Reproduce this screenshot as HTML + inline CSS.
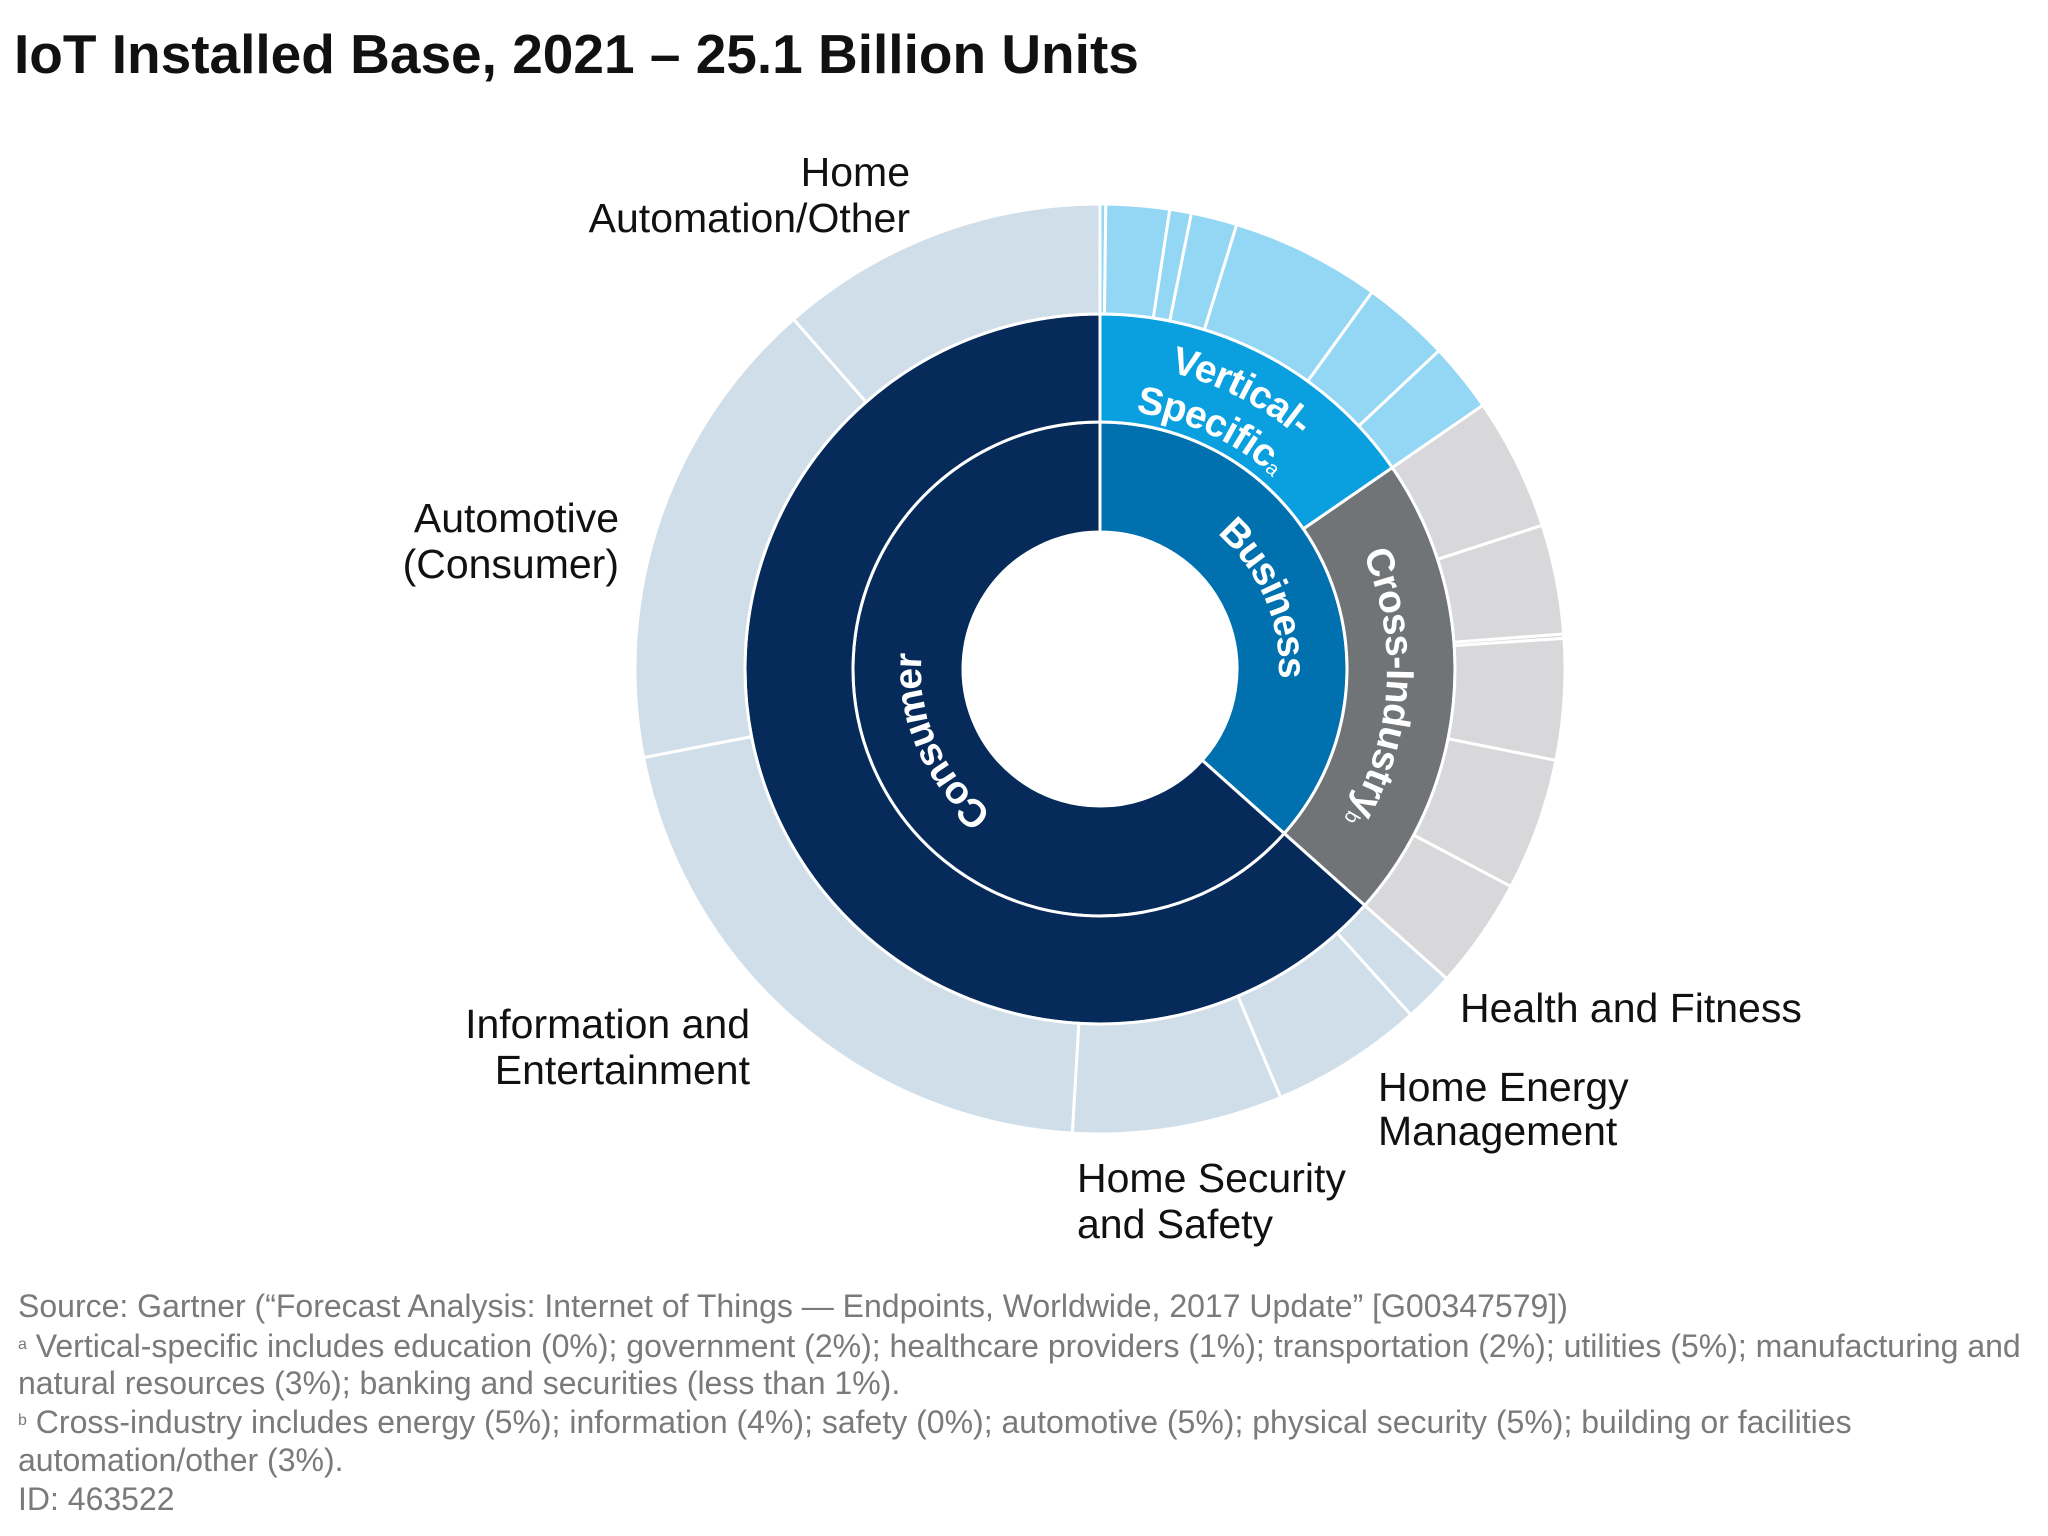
<!DOCTYPE html>
<html><head><meta charset="utf-8"><style>
html,body{margin:0;padding:0;background:#fff;}
svg{display:block;}
text{font-family:"Liberation Sans",Arial,sans-serif;}
.lbl{font-size:41px;fill:#111;}
.ring{font-size:39px;font-weight:bold;fill:#fff;}
.foot{font-size:32px;fill:#7a7a7a;}
</style></head><body>
<svg id="chart" width="2048" height="1536" viewBox="0 0 2048 1536">
<text x="14" y="73" style="font-size:55px;font-weight:bold;fill:#111">IoT Installed Base, 2021 – 25.1 Billion Units</text>
<g id="rings"></g>
<g id="ringlabels"></g>
<g>
<text class="lbl" x="910" y="186" text-anchor="end">Home</text>
<text class="lbl" x="910" y="232" text-anchor="end">Automation/Other</text>
<text class="lbl" x="619" y="532" text-anchor="end">Automotive</text>
<text class="lbl" x="619" y="578" text-anchor="end">(Consumer)</text>
<text class="lbl" x="750" y="1038" text-anchor="end">Information and</text>
<text class="lbl" x="750" y="1084" text-anchor="end">Entertainment</text>
<text class="lbl" x="1077" y="1192">Home Security</text>
<text class="lbl" x="1077" y="1238">and Safety</text>
<text class="lbl" x="1378" y="1101">Home Energy</text>
<text class="lbl" x="1378" y="1145">Management</text>
<text class="lbl" x="1460" y="1022">Health and Fitness</text>
</g>
<g>
<text class="foot" x="18" y="1317">Source: Gartner (“Forecast Analysis: Internet of Things — Endpoints, Worldwide, 2017 Update” [G00347579])</text>
<text class="foot" x="18" y="1357"><tspan font-size="16" dy="-8">a</tspan><tspan dy="8"> Vertical-specific includes education (0%); government (2%); healthcare providers (1%); transportation (2%); utilities (5%); manufacturing and</tspan></text>
<text class="foot" x="18" y="1394">natural resources (3%); banking and securities (less than 1%).</text>
<text class="foot" x="18" y="1433"><tspan font-size="16" dy="-8">b</tspan><tspan dy="8"> Cross-industry includes energy (5%); information (4%); safety (0%); automotive (5%); physical security (5%); building or facilities</tspan></text>
<text class="foot" x="18" y="1471">automation/other (3%).</text>
<text class="foot" x="18" y="1510">ID: 463522</text>
</g>
</svg>
<script>
// data (percent of total installed base)
const innerNames = ["Business","Consumer"];
const innerValues = [36.6, 63.4];
const middleNames = ["Vertical-Specific","Cross-Industry","Consumer"];
const middleValues = [15.4, 21.2, 63.4];
const verticalNames = ["banking","government","healthcare","transportation","utilities","manufacturing","education"];
const verticalValues = [0.2, 2.2, 0.75, 1.6, 5.2, 3.05, 2.4];
const crossNames = ["energy","information","safety","automotive","physical-security","building-automation"];
const crossValues = [4.6, 3.8, 0.15, 4.2, 4.6, 3.85];
const consumerNames = ["health-fitness","home-energy","home-security","information-entertainment","automotive-consumer","home-automation"];
const consumerValues = [1.75, 5.3, 7.3, 21, 16.6, 11.45];

const NS="http://www.w3.org/2000/svg";
const cx=1100, cy=669, R0=137, R1=247, R2=355, R3=465;
function ang(p){return p/100*2*Math.PI;}
function pt(r,a){return [cx+r*Math.sin(a), cy-r*Math.cos(a)];}
function arcPath(r0,r1,a0,a1){
  const large=(a1-a0)>Math.PI?1:0;
  const p1=pt(r1,a0),p2=pt(r1,a1),p3=pt(r0,a1),p4=pt(r0,a0);
  return `M${p1}A${r1} ${r1} 0 ${large} 1 ${p2}L${p3}A${r0} ${r0} 0 ${large} 0 ${p4}Z`;
}
const g=document.getElementById('rings');
function ring(names,vals,start,r0,r1,color,prefix){
  let acc=start;
  vals.forEach((v,i)=>{
    const p=document.createElementNS(NS,'path');
    p.setAttribute('d',arcPath(r0,r1,ang(acc),ang(acc+v)));
    p.setAttribute('fill',Array.isArray(color)?color[i]:color);
    p.setAttribute('stroke','#fff');p.setAttribute('stroke-width','3');
    
    
    g.appendChild(p);
    acc+=v;
  });
}
ring(innerNames,innerValues,0,R0,R1,["#0070ae","#062a59"],'inner-segment');
ring(middleNames,middleValues,0,R1,R2,["#0a9fdf","#707477","#062a59"],'middle-segment');
ring(verticalNames,verticalValues,0,R2,R3,"#93d7f5",'vertical-segment');
ring(crossNames,crossValues,innerValues[0]-crossValues.reduce((a,b)=>a+b,0),R2,R3,"#d8d8da",'cross-segment');
ring(consumerNames,consumerValues,innerValues[0],R2,R3,"#d0dee9",'consumer-segment');

const lg=document.getElementById('ringlabels');
const defs=document.createElementNS(NS,'defs');lg.appendChild(defs);
let pid=0;
function arcText(txt,sup,r,centerDeg,name){
  const c=centerDeg*Math.PI/180, s=c-1.2, e=c+1.2;
  const id='tp'+(pid++);
  const path=document.createElementNS(NS,'path');
  path.setAttribute('id',id);
  path.setAttribute('d',`M${pt(r,s)}A${r} ${r} 0 0 1 ${pt(r,e)}`);
  path.setAttribute('fill','none');
  defs.appendChild(path);
  const t=document.createElementNS(NS,'text');
  t.setAttribute('class','ring');
  t.setAttribute('dominant-baseline','central');
  
  
  const tp=document.createElementNS(NS,'textPath');
  tp.setAttribute('href','#'+id);
  tp.setAttribute('startOffset','50%');
  tp.setAttribute('text-anchor','middle');
  tp.textContent=txt;
  if(sup){const ts=document.createElementNS(NS,'tspan');ts.setAttribute('font-size','20');ts.setAttribute('font-weight','normal');ts.setAttribute('dy','8');ts.textContent=sup;tp.appendChild(ts);}
  t.appendChild(tp);lg.appendChild(t);
}
arcText("Consumer","",192,246,'consumer-label');
arcText("Business","",192,67,'business-label');
arcText("Vertical-","",318,27,'vertical-specific-label');
arcText("Specific","a",272,25,'vertical-specific-label-line2');
arcText("Cross-Industry","b",300,94,'cross-industry-label');
</script>
</body></html>
